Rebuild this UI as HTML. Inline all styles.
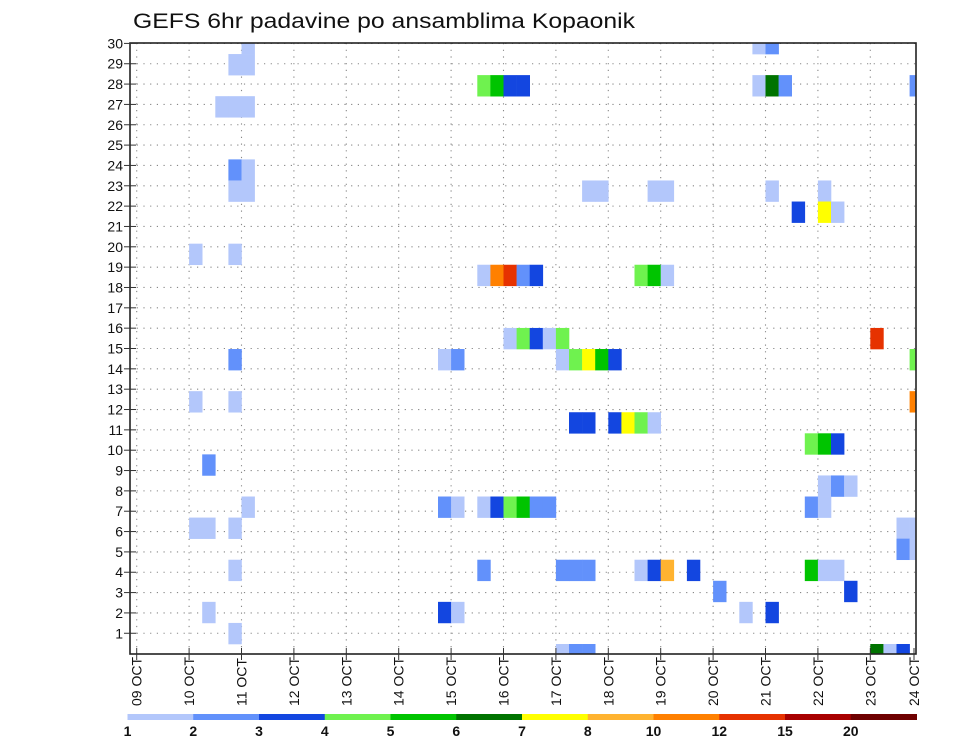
<!DOCTYPE html>
<html><head><meta charset="utf-8"><style>
html,body{margin:0;padding:0;background:#fff;}
svg{display:block;font-family:"Liberation Sans",sans-serif;}
</style></head><body>
<svg id="chart" width="960" height="742" viewBox="0 0 960 742" xmlns="http://www.w3.org/2000/svg">
<text x="133" y="28" font-size="21" fill="#111" textLength="502" lengthAdjust="spacingAndGlyphs">GEFS 6hr padavine po ansamblima Kopaonik</text>
<g id="grid"></g>
<defs><clipPath id="plotclip"><rect x="130" y="43" width="786" height="611"/></clipPath></defs>
<g id="cells" clip-path="url(#plotclip)"></g>
<rect x="130" y="43" width="786" height="611" fill="none" stroke="#222" stroke-width="1.6"/>
<g id="axes"></g>
<g id="colorbar"></g>
</svg>
<script>
const dayLabels = ["09","10","11","12","13","14","15","16","17","18","19","20","21","22","23","24"];
const memberTicks = [1,2,3,4,5,6,7,8,9,10,11,12,13,14,15,16,17,18,19,20,21,22,23,24,25,26,27,28,29,30];
const levels = [1,2,3,4,5,6,7,8,10,12,15,20];
const levelColors = ["#b3c7fb","#6291fb","#1346e0","#6ff24f","#00c400","#007300","#ffff00","#ffb330","#ff8000","#e63200","#a80000","#6e0000"];
// ensemble member band, 6-hour step index, precipitation (mm)
const cellMember = [29,29,29, 28,28, 27,27,27,27,27,27,27,27, 26,26,26, 23,23, 22,22,22,22,22,22,22,22, 21,21,21, 19,19,
 18,18,18,18,18,18,18,18, 15,15,15,15,15,15, 14,14,14,14,14,14,14,14,14, 12,12,12, 11,11,11,11,11,11, 10,10,10, 9, 8,8,8,
 7,7,7,7,7,7,7,7,7,7,7, 6,6,6,6,6, 5,5, 4,4,4,4,4,4,4,4,4,4,4,4, 3,3, 2,2,2,2,2, 1, 0,0,0,0,0,0];
const cellStep = [8,47,48, 7,8, 26,27,28,29,47,48,49,59, 6,7,8, 7,8, 7,8,34,35,39,40,48,52, 50,52,53, 4,7,
 26,27,28,29,30,38,39,40, 28,29,30,31,32,56, 7,23,24,32,33,34,35,36,59, 4,7,59, 33,34,36,37,38,39, 51,52,53, 5, 52,53,54,
 8,23,24,26,27,28,29,30,31,51,52, 4,5,7,58,59, 58,59, 7,26,32,33,34,38,39,40,42,51,52,53, 44,54, 5,23,24,46,48, 7, 32,33,34,56,57,58];
const cellValue = [1.5,1.5,2.5, 1.5,1.5, 4.5,5.5,3.5,3.5,1.5,6.5,2.5,2.5, 1.5,1.5,1.5, 2.5,1.5, 1.5,1.5,1.5,1.5,1.5,1.5,1.5,1.5, 3.5,7.5,1.5, 1.5,1.5,
 1.5,11,13.5,2.5,3.5,4.5,5.5,1.5, 1.5,4.5,3.5,1.5,4.5,13.5, 2.5,1.5,2.5,1.5,4.5,7.5,5.5,3.5,4.5, 1.5,1.5,11, 3.5,3.5,3.5,7.5,4.5,1.5, 4.5,5.5,3.5, 2.5, 1.5,2.5,1.5,
 1.5,2.5,1.5,1.5,3.5,4.5,5.5,2.5,2.5,2.5,1.5, 1.5,1.5,1.5,1.5,1.5, 2.5,1.5, 1.5,2.5,2.5,2.5,2.5,1.5,3.5,9,3.5,5.5,1.5,1.5, 2.5,3.5, 1.5,3.5,1.5,1.5,3.5, 1.5, 1.5,2.5,2.5,6.5,1.5,3.5];

const NS="http://www.w3.org/2000/svg";
const X0=136.7, DAY=52.4, STEP=DAY/4;
const BAND_BOTTOM=644, BAND_H=21.07;
const xStep = k => X0 + k*STEP;
const xDay = d => X0 + d*DAY;
const yBandTop = b => BAND_BOTTOM - b*BAND_H;
const yTick = m => 653.6 - m*20.34;
function colorFor(v){let i=0;for(let j=0;j<levels.length;j++){if(v>=levels[j])i=j;}return levelColors[i];}
function mk(tag,attrs,parent){const e=document.createElementNS(NS,tag);for(const k in attrs)e.setAttribute(k,attrs[k]);parent.appendChild(e);return e;}

const grid=document.getElementById('grid');
for(let i=0;i<memberTicks.length;i++){
  const y=yTick(memberTicks[i]);
  const l=mk('line',{x1:130,x2:916,y1:y,y2:y,stroke:'#888','stroke-width':1.1,'stroke-dasharray':'1.2 5.5'},grid);
  
  
}
for(let d=0;d<dayLabels.length-1;d++){
  const x=xDay(d);
  const l=mk('line',{x1:x,x2:x,y1:43,y2:654,stroke:'#888','stroke-width':1.1,'stroke-dasharray':'1.2 5.5'},grid);
  
  
}

const cells=document.getElementById('cells');
for(let i=0;i<cellMember.length;i++){
  const r=mk('rect',{x:xStep(cellStep[i]),y:yBandTop(cellMember[i]),width:STEP+0.3,height:BAND_H+0.3,fill:colorFor(cellValue[i])},cells);
  
  
}

const axes=document.getElementById('axes');
for(let i=0;i<memberTicks.length;i++){
  const y=yTick(memberTicks[i]);
  mk('line',{x1:124,x2:136,y1:y,y2:y,stroke:'#333','stroke-width':1},axes);
  const t=mk('text',{x:123,y:y+5,'text-anchor':'end','font-size':14,fill:'#111'},axes);
  t.textContent=memberTicks[i];
  
  
}
for(let d=0;d<dayLabels.length;d++){
  let x=xDay(d); if(d===dayLabels.length-1) x=914;
  mk('line',{x1:x,x2:x,y1:648,y2:660,stroke:'#333','stroke-width':1},axes);
  const t=mk('text',{x:0,y:0,'font-size':14,fill:'#111',transform:'translate('+(x+5)+',706) rotate(-90)'},axes);
  t.textContent=dayLabels[d]+' OCT';
  
  
}

const cb=document.getElementById('colorbar');
const CB0=127.5, CBW=(916.5-127.5)/levels.length;
for(let i=0;i<levels.length;i++){
  const r=mk('rect',{x:CB0+i*CBW,y:714,width:CBW+0.5,height:6,fill:levelColors[i]},cb);
  
  
  const t=mk('text',{x:CB0+i*CBW,y:736,'text-anchor':'middle','font-size':14,'font-weight':'bold',fill:'#111'},cb);
  t.textContent=levels[i];
  
  
}
</script>
</body></html>
